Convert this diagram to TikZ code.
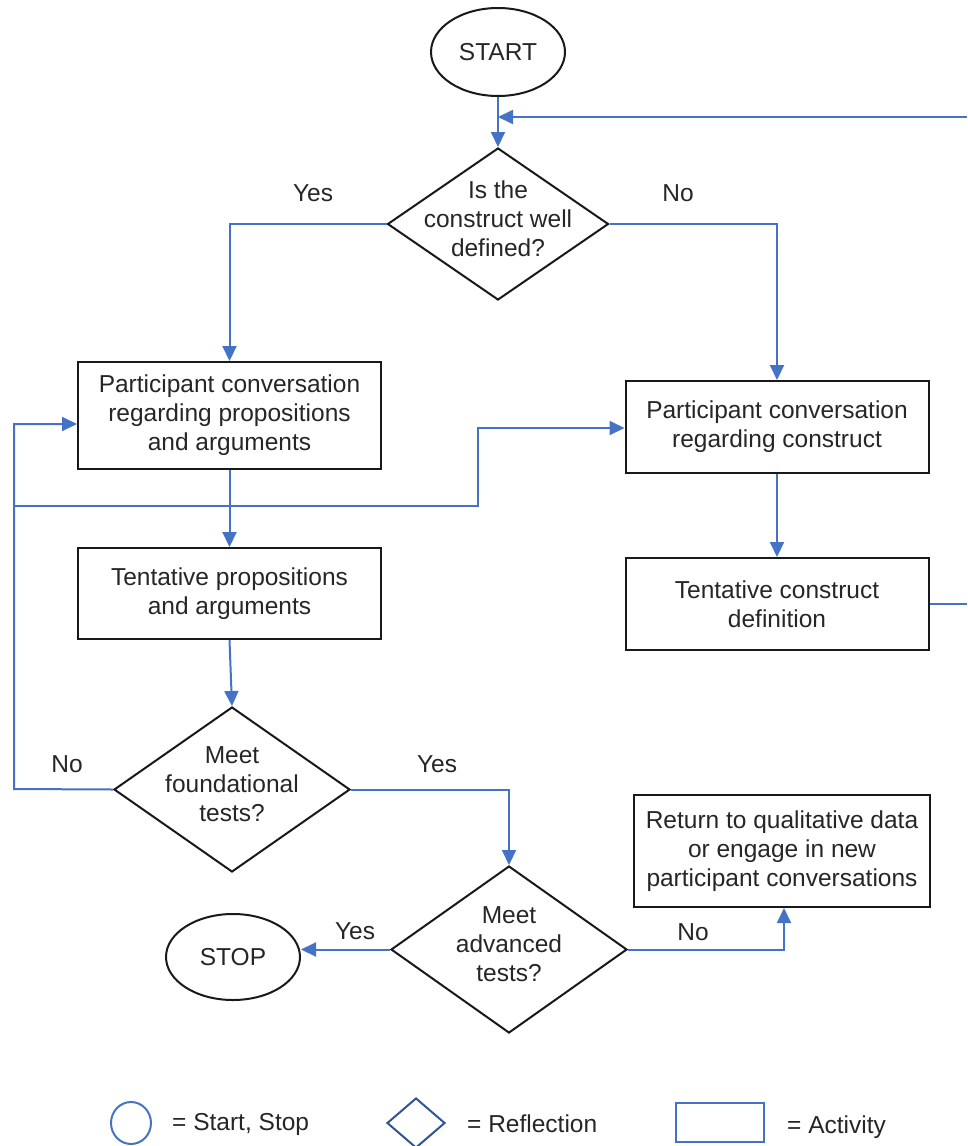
\documentclass[tikz,border=0pt]{standalone}
\usepackage{fontspec}
\setmainfont{Liberation Sans}
\usetikzlibrary{shapes.geometric,arrows.meta}
\definecolor{lineblue}{RGB}{68,114,196}
\definecolor{darkblue}{RGB}{47,85,151}
\tikzset{
  txt/.style={font=\fontsize{24.5}{29}\selectfont, text=black!85, align=center},
  term/.style={ellipse, draw=black!90, line width=2pt, minimum width=134pt, minimum height=88pt, inner sep=0pt, txt},
  act/.style={rectangle, draw=black!90, line width=2pt, minimum width=303pt, minimum height=92pt, inner sep=0pt, txt},
  refl/.style={diamond, draw=black!90, line width=2pt, minimum width=221pt, minimum height=152pt, inner sep=0pt},
  conn/.style={draw=lineblue, line width=2pt},
  arr/.style={conn, -{Triangle[length=15pt,width=14pt]}},
  lab/.style={txt, inner sep=0pt}
}
\begin{document}
\begin{tikzpicture}[x=1pt,y=-1pt]
\useasboundingbox (0,0) rectangle (967,1146);
% nodes
\node[term] (start) at (498,52) {START};
\node[refl] (d1) at (498,224) {};
\node[lab] (d1t) at (498,219) {Is the\\construct well\\defined?};
\node[act, minimum height=107pt] (b1) at (229.5,415.5) {Participant conversation\\regarding propositions\\and arguments};
\node[act] (b2) at (777,427) {Participant conversation\\regarding construct};
\node[act, minimum height=91pt] (b3) at (229.5,593.5) {Tentative propositions\\and arguments};
\node[act] (b4) at (777,604) {Tentative construct\\definition};
\node[refl, minimum width=236pt, minimum height=165pt] (d2) at (232,789.5) {};
\node[lab] (d2t) at (232,784) {Meet\\foundational\\tests?};
\node[refl, minimum width=236pt, minimum height=167pt] (d3) at (509,949.5) {};
\node[lab] (d3t) at (509,944) {Meet\\advanced\\tests?};
\node[term, minimum height=86pt] (stop) at (233,957) {STOP};
\node[act, minimum width=296pt, minimum height=112pt] (b5) at (782,851) {Return to qualitative data\\or engage in new\\participant conversations};
% labels
\node[lab] (y1) at (313,193) {Yes};
\node[lab] (n1) at (678,193) {No};
\node[lab] (n2) at (67,764) {No};
\node[lab] (y2) at (437,764) {Yes};
\node[lab] (y3) at (355,931) {Yes};
\node[lab] (n3) at (693,932) {No};
% coordinates
\coordinate (fbA) at (967,117);
\coordinate (fbB) at (967,604);
\coordinate (l1) at (14,789);
\coordinate (l2) at (14,424);
\coordinate (m1) at (14,506);
\coordinate (m2) at (478,506);
\coordinate (m3) at (478,428);
% connectors
\draw[arr] (start.south) -- (d1.north);
\draw[arr] (fbA) -- (fbA -| start);
\draw[arr] (d1.west) -| (b1.north);
\draw[arr] (d1.east) -| (b2.north);
\draw[arr] (b1.south) -- (b3.north);
\draw[arr] (b2.south) -- (b4.north);
\draw[conn] (b4.east) -- (fbB);
\draw[arr] (b3.south) -- (d2.north);
\draw[arr] (d2.west) -- (l1) -- (l2) -- (l2 -| b1.west);
\draw[arr] (m1) -- (m2) -- (m3) -- (m3 -| b2.west);
\draw[arr] (d2.east) -| (d3.north);
\draw[arr] (d3.west) -- (d3.west -| stop.east);
\draw[arr] (d3.east) -| ([xshift=2pt]b5.south);
% legend
\node[ellipse, draw=lineblue, line width=2pt, minimum width=40pt, minimum height=42pt, inner sep=0pt] (lg1) at (131,1123) {};
\node[lab, anchor=west] (lg1t) at (172,1124) {= Start, Stop};
\node[diamond, draw=darkblue, line width=2pt, minimum width=58pt, minimum height=50pt, inner sep=0pt] (lg2) at (416,1123) {};
\node[lab, anchor=west] (lg2t) at (467,1124) {= Reflection};
\node[rectangle, draw=lineblue, line width=2pt, minimum width=88pt, minimum height=39pt, inner sep=0pt] (lg3) at (720,1122.5) {};
\node[lab, anchor=west] (lg3t) at (787,1127) {= Activity};
\end{tikzpicture}
\end{document}
